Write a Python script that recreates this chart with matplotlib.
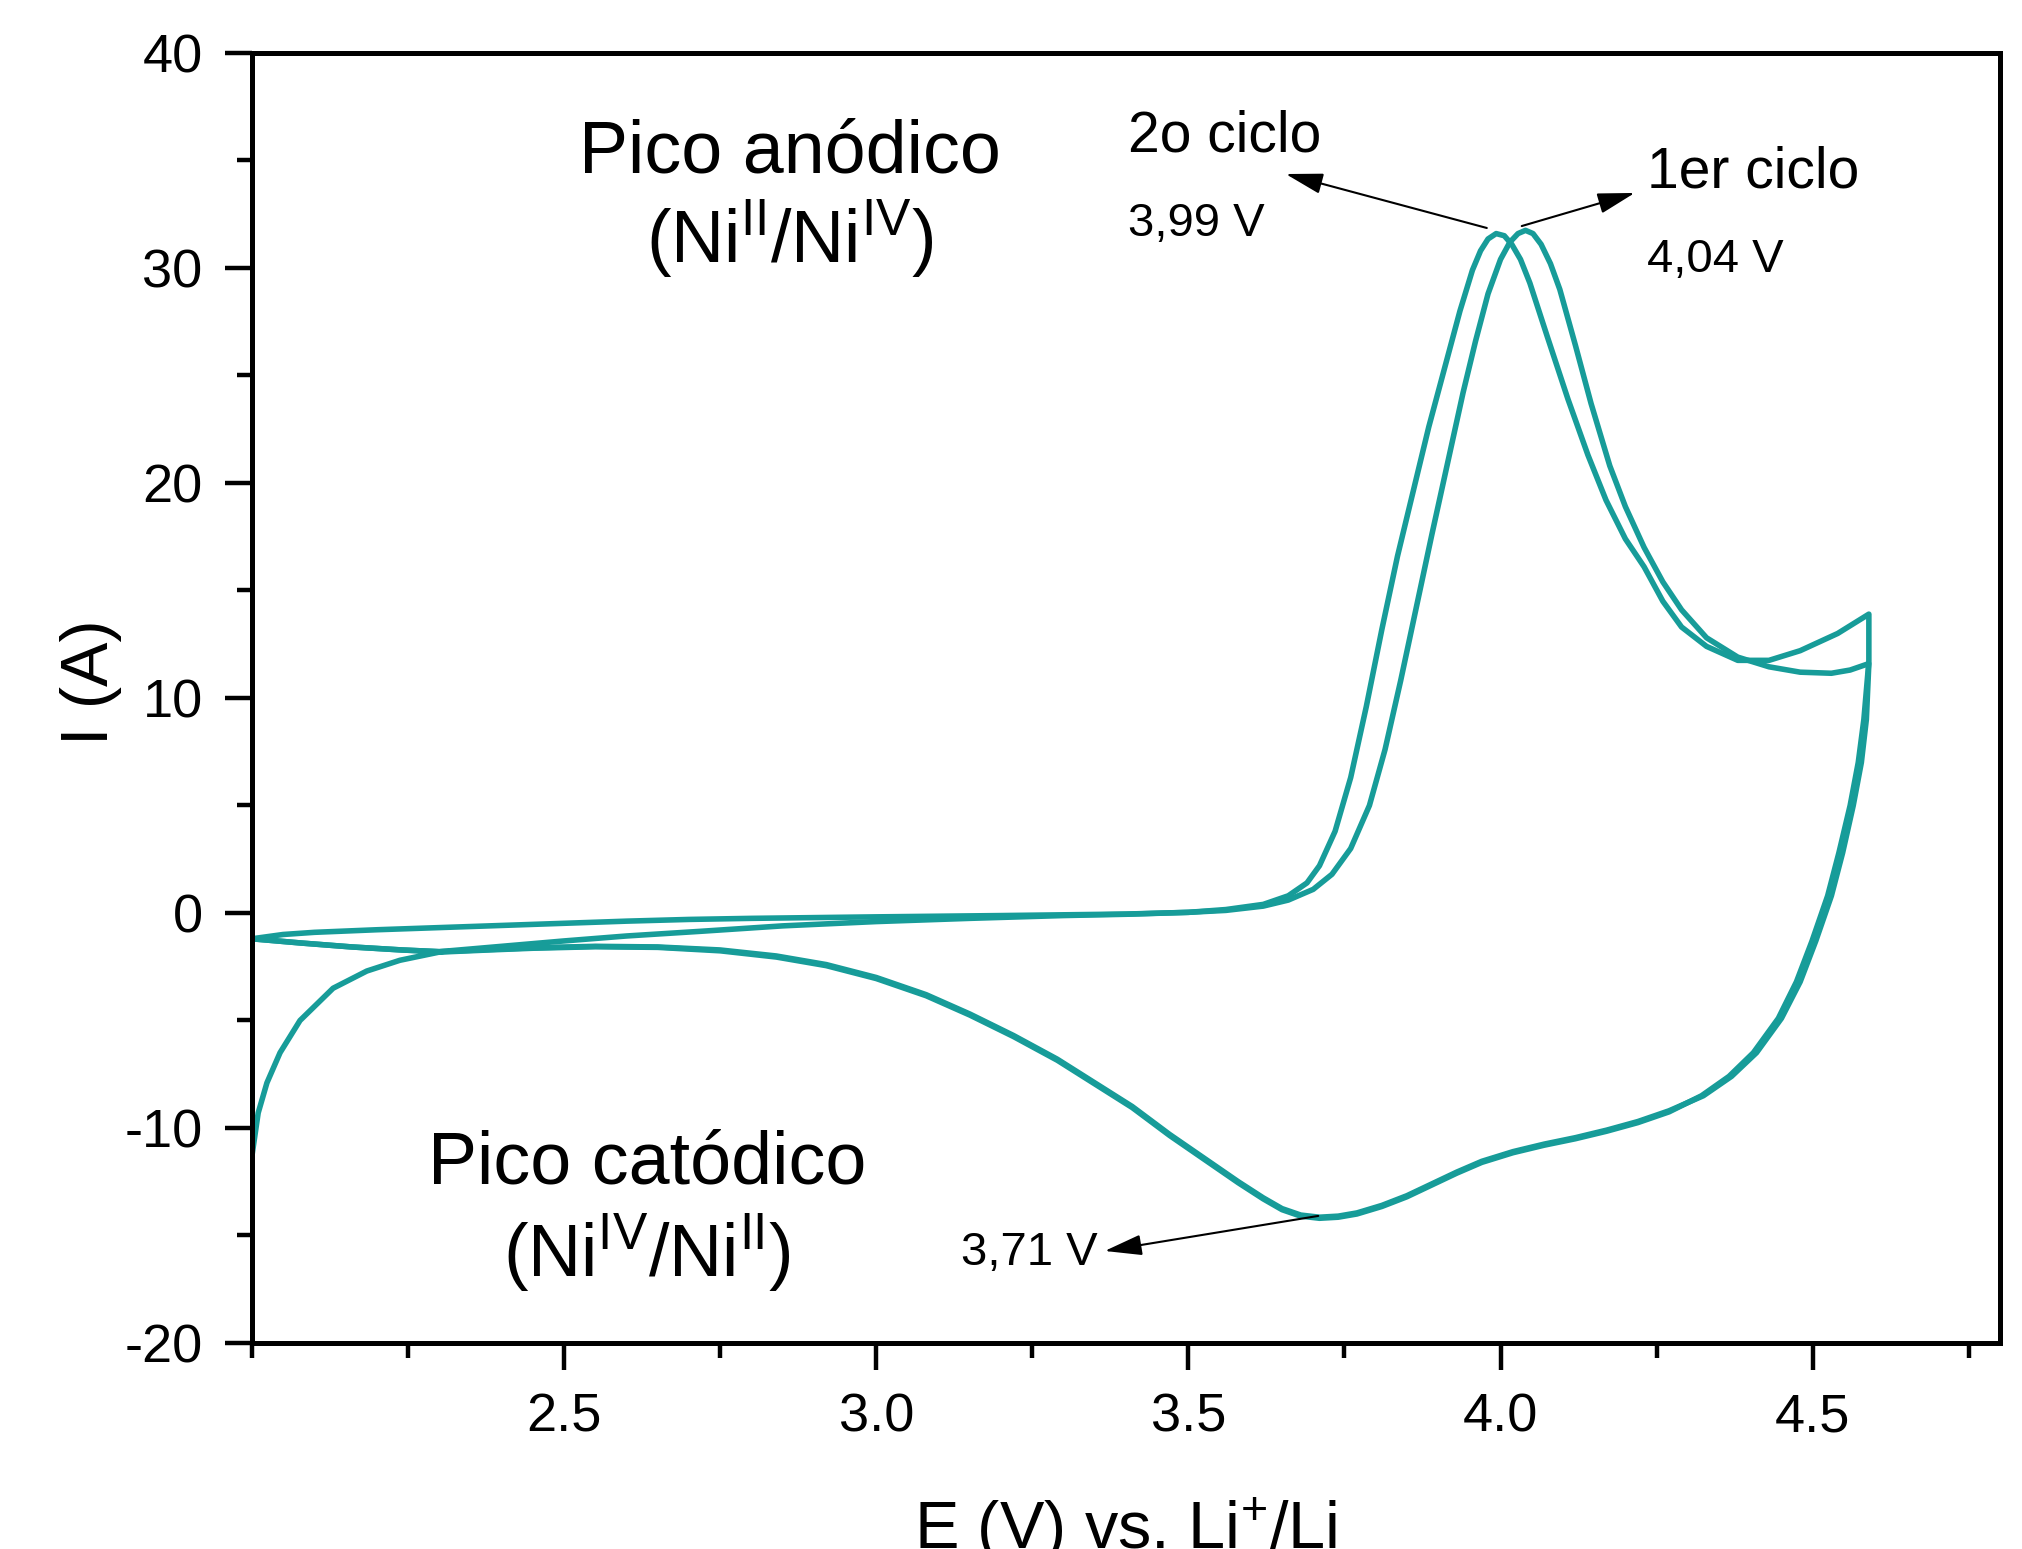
import matplotlib
matplotlib.use('Agg')
import matplotlib.pyplot as plt
from matplotlib.ticker import MultipleLocator

# curve data (E in V, I in A)

e_anod_1 = [2.00, 2.05, 2.10, 2.20, 2.30, 2.40, 2.50, 2.60, 2.70, 2.80, 3.00, 3.20, 3.40, 3.50,
            3.56, 3.62, 3.66, 3.70, 3.73, 3.76, 3.79, 3.815, 3.84, 3.865, 3.89, 3.915, 3.94,
            3.96, 3.98, 4.00, 4.015, 4.028, 4.04, 4.052, 4.065, 4.08, 4.095, 4.12, 4.145,
            4.175, 4.20, 4.23, 4.26, 4.29, 4.33, 4.38, 4.43, 4.48, 4.53, 4.56, 4.59]
i_anod_1 = [-1.20, -1.00, -0.90, -0.78, -0.68, -0.58, -0.48, -0.38, -0.30, -0.25, -0.18, -0.12,
            -0.05, 0.03, 0.12, 0.32, 0.60, 1.10, 1.80, 3.00, 5.00, 7.60, 10.8, 14.2, 17.6, 20.9,
            24.2, 26.6, 28.8, 30.4, 31.2, 31.6, 31.75, 31.6, 31.1, 30.2, 29.0, 26.4, 23.7, 20.8,
            18.9, 17.0, 15.4, 14.1, 12.8, 11.9, 11.45, 11.2, 11.15, 11.3, 11.6]

e_cat_1 = [4.59, 4.586, 4.578, 4.565, 4.548, 4.53, 4.505, 4.48, 4.45, 4.41, 4.37, 4.325, 4.27,
           4.22, 4.17, 4.12, 4.07, 4.02, 3.97, 3.93, 3.89, 3.85, 3.81, 3.77, 3.74, 3.71, 3.68,
           3.65, 3.62, 3.58, 3.53, 3.47, 3.41, 3.35, 3.29, 3.22, 3.15, 3.08, 3.00, 2.92, 2.84,
           2.75, 2.65, 2.55, 2.45, 2.38, 2.30, 2.24, 2.16, 2.08, 2.00]
i_cat_1 = [11.6, 9.0, 7.0, 5.0, 2.8, 0.8, -1.3, -3.2, -4.9, -6.5, -7.6, -8.5, -9.2, -9.7, -10.1,
           -10.45, -10.75, -11.1, -11.55, -12.05, -12.6, -13.15, -13.6, -13.95, -14.1, -14.15,
           -14.05, -13.75, -13.25, -12.5, -11.5, -10.3, -9.0, -7.9, -6.8, -5.7, -4.7, -3.8, -3.0,
           -2.4, -2.0, -1.72, -1.58, -1.55, -1.62, -1.70, -1.80, -1.72, -1.58, -1.40, -1.20]

e_anod_2 = [2.00, 2.08, 2.16, 2.24, 2.30, 2.40, 2.50, 2.60, 2.72, 2.85, 3.00, 3.15, 3.30, 3.40,
            3.50, 3.56, 3.62, 3.66, 3.69, 3.71, 3.735, 3.76, 3.785, 3.81, 3.835, 3.86, 3.885,
            3.91, 3.935, 3.955, 3.968, 3.98, 3.993, 4.006, 4.018, 4.032, 4.047, 4.075, 4.108,
            4.14, 4.169, 4.20, 4.23, 4.26, 4.29, 4.33, 4.38, 4.43, 4.48, 4.54, 4.59]
i_anod_2 = [-1.20, -1.40, -1.58, -1.72, -1.80, -1.55, -1.30, -1.07, -0.85, -0.60, -0.40, -0.25,
            -0.12, -0.06, 0.03, 0.16, 0.40, 0.80, 1.40, 2.20, 3.80, 6.30, 9.60, 13.2, 16.6, 19.6,
            22.6, 25.3, 28.0, 29.9, 30.8, 31.35, 31.6, 31.5, 31.1, 30.4, 29.3, 26.8, 23.9, 21.3,
            19.2, 17.4, 16.1, 14.5, 13.3, 12.4, 11.75, 11.75, 12.2, 13.0, 13.9]

e_cat_2 = [4.59, 4.59, 4.582, 4.573, 4.56, 4.542, 4.524, 4.499, 4.474, 4.445, 4.405, 4.366,
           4.322, 4.27, 4.22, 4.17, 4.12, 4.07, 4.02, 3.97, 3.93, 3.89, 3.85, 3.81, 3.77, 3.74,
           3.71, 3.68, 3.65, 3.62, 3.58, 3.53, 3.47, 3.41, 3.35, 3.29, 3.22, 3.15, 3.08, 3.00,
           2.92, 2.84, 2.75, 2.65, 2.55, 2.45, 2.38, 2.30, 2.237, 2.184, 2.13, 2.077, 2.045,
           2.024, 2.01, 2.00]
i_cat_2 = [13.9, 11.7, 9.0, 7.0, 5.0, 2.8, 0.8, -1.3, -3.2, -4.9, -6.5, -7.6, -8.5, -9.25, -9.75,
           -10.15, -10.5, -10.8, -11.15, -11.6, -12.1, -12.65, -13.2, -13.65, -14.0, -14.15,
           -14.2, -14.1, -13.8, -13.3, -12.55, -11.55, -10.35, -9.05, -7.95, -6.85, -5.75,
           -4.75, -3.85, -3.05, -2.45, -2.05, -1.76, -1.60, -1.57, -1.64, -1.72, -1.82, -2.2,
           -2.7, -3.5, -5.0, -6.5, -7.9, -9.3, -11.3]

Y_TICKS = [-20, -10, 0, 10, 20, 30, 40]
X_TICKS = [2.5, 3.0, 3.5, 4.0, 4.5]

COLOR = '#179c99'
DPI = 100


def main():

    plt.rcParams['font.family'] = ['Liberation Sans', 'DejaVu Sans']
    plt.rcParams['mathtext.fontset'] = 'custom'
    plt.rcParams['mathtext.rm'] = 'Liberation Sans'
    plt.rcParams['mathtext.it'] = 'Liberation Sans:italic'
    plt.rcParams['mathtext.bf'] = 'Liberation Sans:bold'
    plt.rcParams['axes.unicode_minus'] = False

    fig = plt.figure(figsize=(20.22, 15.49), dpi=DPI)
    ax = fig.add_axes([0.1246, 0.1330, 0.8645, 0.8328])

    # curves

    ax.plot(e_anod_1 + e_cat_1, i_anod_1 + i_cat_1, color=COLOR, lw=4.0,
            solid_joinstyle='round', solid_capstyle='round')
    ax.plot(e_anod_2 + e_cat_2, i_anod_2 + i_cat_2, color=COLOR, lw=4.0,
            solid_joinstyle='round', solid_capstyle='round')

    # axes

    ax.set_xlim(2.0, 4.8)
    ax.set_ylim(-20, 40)
    ax.set_xticks(X_TICKS)
    ax.set_xticklabels(['%.1f' % x for x in X_TICKS])
    ax.set_yticks(Y_TICKS)
    ax.set_yticklabels(['%d' % y for y in Y_TICKS])
    ax.xaxis.set_minor_locator(MultipleLocator(0.25))
    ax.yaxis.set_minor_locator(MultipleLocator(5))
    ax.tick_params(which='major', direction='out', length=19.5, width=3.2,
                   labelsize=39, pad=16)
    ax.tick_params(which='minor', direction='out', length=11, width=3.2)
    ax.tick_params(top=False, right=False, which='both')
    for s in ax.spines.values():
        s.set_linewidth(3.6)

    ax.set_xlabel(r'E (V) vs. Li$^{\mathregular{+}}$/Li', fontsize=48, labelpad=38)
    ax.set_ylabel('I (A)', fontsize=48)
    ax.yaxis.set_label_coords(-0.0744, 0.512)

    # labels

    ax.text(2.862, 34.42, 'Pico anódico', fontsize=53, ha='center', va='baseline')
    ax.text(2.862, 30.23, r'(Ni$^{\mathregular{II}}$/Ni$^{\mathregular{IV}}$)',
            fontsize=53, ha='center', va='baseline')
    ax.text(2.633, -12.6, 'Pico catódico', fontsize=53, ha='center', va='baseline')
    ax.text(2.633, -16.93, r'(Ni$^{\mathregular{IV}}$/Ni$^{\mathregular{II}}$)',
            fontsize=53, ha='center', va='baseline')

    ax.text(3.403, 35.44, '2o ciclo', fontsize=41, va='baseline')
    ax.text(3.403, 31.49, '3,99 V', fontsize=34, va='baseline')
    ax.text(4.234, 33.72, '1er ciclo', fontsize=41, va='baseline')
    ax.text(4.234, 29.81, '4,04 V', fontsize=34, va='baseline')
    ax.text(3.136, -16.37, '3,71 V', fontsize=34, va='baseline')

    arrow = dict(arrowstyle='-|>,head_length=1.15,head_width=0.32', color='black',
                 lw=1.5, shrinkA=0, shrinkB=0, mutation_scale=20)
    ax.annotate('', xy=(3.656, 34.37), xytext=(3.978, 31.86), arrowprops=arrow)
    ax.annotate('', xy=(4.215, 33.49), xytext=(4.034, 31.95), arrowprops=arrow)
    ax.annotate('', xy=(3.366, -15.72), xytext=(3.708, -14.09), arrowprops=arrow)

    fig.savefig('out.png', dpi=DPI)
    plt.close('all')


if __name__ == '__main__':
    main()
